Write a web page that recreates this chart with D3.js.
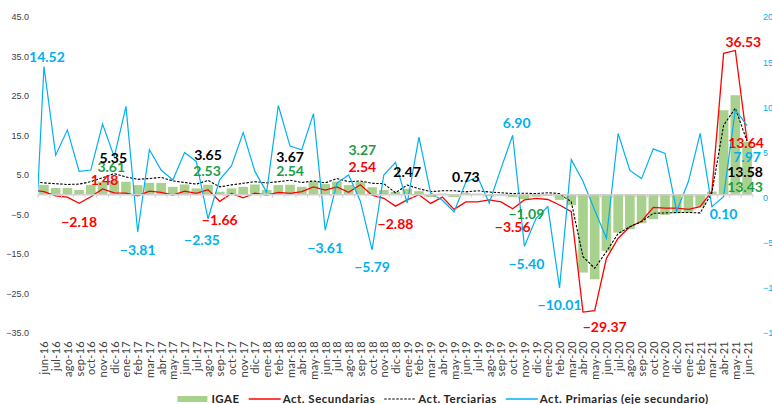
<!DOCTYPE html>
<html>
<head>
<meta charset="utf-8">
<script src="https://cdn.jsdelivr.net/npm/d3@7"></script>
<style>
body { margin: 0; background: #fff; }
svg { display: block; font-family: Lato, "Open Sans", sans-serif; }
</style>
</head>
<body>
<div id="chart"></div>
<script>
// may-16 is only there so the lines come in from the left edge (it is clipped)
var months = ["may-16","jun-16","jul-16","ago-16","sep-16","oct-16","nov-16","dic-16",
  "ene-17","feb-17","mar-17","abr-17","may-17","jun-17","jul-17","ago-17","sep-17","oct-17","nov-17","dic-17",
  "ene-18","feb-18","mar-18","abr-18","may-18","jun-18","jul-18","ago-18","sep-18","oct-18","nov-18","dic-18",
  "ene-19","feb-19","mar-19","abr-19","may-19","jun-19","jul-19","ago-19","sep-19","oct-19","nov-19","dic-19",
  "ene-20","feb-20","mar-20","abr-20","may-20","jun-20","jul-20","ago-20","sep-20","oct-20","nov-20","dic-20",
  "ene-21","feb-21","mar-21","abr-21","may-21","jun-21"];

var igae = [2.4,
  2.5,1.7,1.7,1.2,2.45,3.3,3.61,
  3.3,2.45,3.0,3.0,2.0,2.6,1.6,2.53,0.75,1.6,2.0,2.6,
  1.2,2.45,2.54,2.0,3.3,2.7,3.3,2.45,3.27,1.9,1.2,0.75,
  1.5,0.9,-0.6,0.3,-0.6,0.4,0.3,-0.4,-0.2,-0.6,-1.09,-0.5,
  -0.3,-1.3,-2.6,-19.7,-21.4,-14.2,-9.6,-8.7,-7.2,-6.2,-5.1,-4.7,
  -4.5,-3.0,0.8,21.4,25.2,13.43];

var secundarias = [1.2,
  0.8,-0.3,-0.6,-2.18,-0.5,1.48,0.5,
  0.4,-0.3,0.9,0.6,-0.1,0.9,0.35,1.3,-1.66,0.35,-0.8,0.4,
  -0.1,0.6,0.35,0.8,2.0,1.2,2.0,0.6,2.54,-0.1,-0.9,-2.88,
  -1.3,0.0,-2.2,-0.6,-3.7,-1.8,-1.8,-1.3,-1.8,-3.56,-1.3,-0.9,
  -1.2,-2.6,-4.3,-29.7,-29.37,-16.1,-11.0,-8.1,-6.7,-3.2,-3.4,-3.4,
  -3.7,-3.0,0.9,35.8,36.53,13.64];

var terciarias = [3.3,
  3.0,2.8,2.6,2.7,3.3,4.3,5.35,
  4.5,3.9,4.1,4.4,3.5,3.1,2.7,3.65,2.0,2.5,2.9,3.3,
  3.0,3.3,3.67,3.1,3.5,3.0,4.1,3.3,3.5,2.9,2.8,0.5,
  2.47,1.5,0.8,1.0,1.0,0.73,1.0,0.7,0.5,0.3,0.4,0.3,
  0.5,0.3,-1.8,-15.7,-18.6,-14.4,-9.8,-8.1,-6.8,-4.7,-4.6,-4.5,
  -4.5,-4.6,0.5,17.6,21.9,13.58];

// eje secundario
var primarias = [-11.5,
  14.52,4.7,7.5,2.9,3.05,8.15,4.5,
  10.1,-3.81,5.3,3.05,1.95,5.0,4.0,-2.35,2.0,3.5,7.2,2.9,
  0.6,10.2,5.7,5.3,9.3,-3.61,1.6,2.5,-0.4,-5.79,2.5,3.9,
  -0.6,6.7,0.5,-0.3,-1.6,1.7,2.3,-0.6,3.2,6.90,-5.40,-2.3,
  -1.0,-10.01,4.2,1.8,-1.4,-4.5,7.1,3.0,2.1,5.4,4.9,-1.5,
  1.8,7.1,-1.0,0.10,9.7,7.97];

var leftTicks = [45,35,25,15,5,-5,-15,-25,-35];
var rightTicks = [20,15,10,5,0,-5,-10,-15];

// labelled points: [month index, dx, dy]
var igaeLabels = [[7,-3,-8],[15,-1,-9],[22,0,-9],[28,2,-27],[42,2,20],[61,-2,50]];
var secLabels = [[6,2,-4],[4,0,24],[16,0,24],[28,2,-13],[31,0,23],[41,0,23],[48,10,21],[60,8,-3],[61,-1,7]];
var terLabels = [[7,-1,-11],[15,0,-20],[22,0,-18],[32,0,-8],[37,0,-10],[61,-2,36]];
var priLabels = [[1,3,-4],[9,0,23],[15,-6,26],[25,0,23],[29,0,22],[41,4,-7],[42,2,23],[45,0,22],[59,0,22],[61,0,36]];

var legendItems = ["IGAE", "Act. Secundarias", "Act. Terciarias", "Act. Primarias (eje secundario)"];

var green = "#a9d18e", greenText = "#1a9e48", red = "#ff0000", blue = "#00b0f0";
var legendColors = [green, red, "#000000", blue];

var W = 772, H = 404;
var plotLeft = 38.1, plotRight = 752.9, plotTop = 17, plotBottom = 333;

var svg = d3.select("#chart").append("svg")
    .attr("width", W)
    .attr("height", H);

var x = d3.scaleLinear().domain([0.5, months.length - 0.5]).range([plotLeft, plotRight]);
var yL = d3.scaleLinear().domain([-35, 45]).range([plotBottom, plotTop]);
var yR = d3.scaleLinear().domain([-15, 20]).range([plotBottom, plotTop]);
var step = x(1) - x(0);
var idx = d3.range(months.length);

svg.append("clipPath").attr("id", "plot")
  .append("rect").attr("x", plotLeft).attr("y", 0).attr("width", plotRight - plotLeft).attr("height", H);

// left axis
var ax = svg.append("g")
    .attr("transform", "translate(29,0)")
    .call(d3.axisLeft(yL).tickValues(leftTicks).tickFormat(d3.format(".1f")).tickSize(0).tickPadding(0));
ax.select(".domain").remove();
ax.selectAll("text").attr("fill", "#404040").attr("font-size", 9).attr("font-family", "Liberation Sans, Arial, sans-serif");

// right axis
var axR = svg.append("g")
    .attr("transform", "translate(763,0)")
    .call(d3.axisRight(yR).tickValues(rightTicks).tickSize(0).tickPadding(0));
axR.select(".domain").remove();
axR.selectAll("text").attr("fill", blue).attr("font-size", 9).attr("font-family", "Liberation Sans, Arial, sans-serif");

var plot = svg.append("g").attr("clip-path", "url(#plot)");

// bars
plot.selectAll(".bar")
  .data(idx)
  .enter().append("rect")
    .attr("class", "bar")
    .attr("x", i => x(i) - step * 0.41)
    .attr("width", step * 0.82)
    .attr("y", i => yL(Math.max(0, igae[i])))
    .attr("height", i => Math.abs(yL(igae[i]) - yL(0)))
    .attr("fill", green);

// category axis line and small ticks
var y0 = yL(0);
svg.append("line")
    .attr("x1", plotLeft).attr("x2", plotRight)
    .attr("y1", y0).attr("y2", y0)
    .attr("stroke", "#d0d0d0").attr("stroke-width", 1.5);
svg.selectAll(".tk")
  .data(d3.range(1, months.length + 1))
  .enter().append("line")
    .attr("class", "tk")
    .attr("x1", i => x(i - 0.5)).attr("x2", i => x(i - 0.5))
    .attr("y1", y0).attr("y2", y0 + 3)
    .attr("stroke", "#d0d0d0");

// lines
plot.append("path")
    .attr("d", d3.line().x(i => x(i)).y(i => yL(secundarias[i]))(idx))
    .attr("fill", "none").attr("stroke", red).attr("stroke-width", 1.3);
plot.append("path")
    .attr("d", d3.line().x(i => x(i)).y(i => yL(terciarias[i]))(idx))
    .attr("fill", "none").attr("stroke", "#000").attr("stroke-width", 1.1)
    .attr("stroke-dasharray", "2.5,1.5");
plot.append("path")
    .attr("d", d3.line().x(i => x(i)).y(i => yR(primarias[i]))(idx))
    .attr("fill", "none").attr("stroke", blue).attr("stroke-width", 1.2);

// month labels
var xa = svg.append("g")
    .attr("transform", "translate(0,335)")
    .call(d3.axisBottom(x).tickValues(d3.range(1, months.length)).tickFormat(i => months[i]).tickSize(0));
xa.select(".domain").remove();
xa.selectAll("text")
    .attr("transform", "rotate(-90)")
    .attr("x", -6).attr("y", 0).attr("dy", "0.36em")
    .attr("text-anchor", "end")
    .attr("fill", "#404040")
    .attr("font-size", 11)
    .attr("letter-spacing", 0.3)
    .attr("font-family", "Lato, sans-serif");

// data labels
var fmt = d3.format(".2f");
function addLabels(list, values, scale, color) {
  svg.append("g").selectAll("text")
    .data(list)
    .enter().append("text")
      .attr("x", d => x(d[0]) + d[1])
      .attr("y", d => scale(values[d[0]]) + d[2])
      .attr("text-anchor", "middle")
      .attr("font-size", 14)
      .attr("font-weight", "bold")
      .attr("fill", color)
      .text(d => fmt(values[d[0]]));
}
addLabels(igaeLabels, igae, yL, greenText);
addLabels(terLabels, terciarias, yL, "#000");
addLabels(secLabels, secundarias, yL, red);
addLabels(priLabels, primarias, yR, blue);

// legend
var legend = svg.append("g");
var lx = 0;
legendItems.forEach(function(name, i) {
  var g = legend.append("g");
  if (i == 0) {
    g.append("rect").attr("x", 0).attr("y", -3).attr("width", 30).attr("height", 6).attr("fill", legendColors[i]);
  } else {
    var ln = g.append("line").attr("x1", 0).attr("x2", 32).attr("y1", 0).attr("y2", 0)
      .attr("stroke", legendColors[i])
      .attr("stroke-width", 1.3);
    if (i == 2) ln.attr("stroke-dasharray", "2.5,1.5").attr("stroke-width", 1);
  }
  var t = g.append("text").attr("x", 34).attr("y", 3.5)
    .attr("font-size", 11.5).attr("font-weight", "bold").attr("fill", "#262626")
    .attr("letter-spacing", 0.5)
    .text(name);
  var w = 34 + t.node().getComputedTextLength();
  g.attr("transform", "translate(" + lx + ",0)");
  lx += w + 9;
});
legend.attr("transform", "translate(" + (443 - (lx - 9) / 2) + ",399)");
</script>
</body>
</html>
